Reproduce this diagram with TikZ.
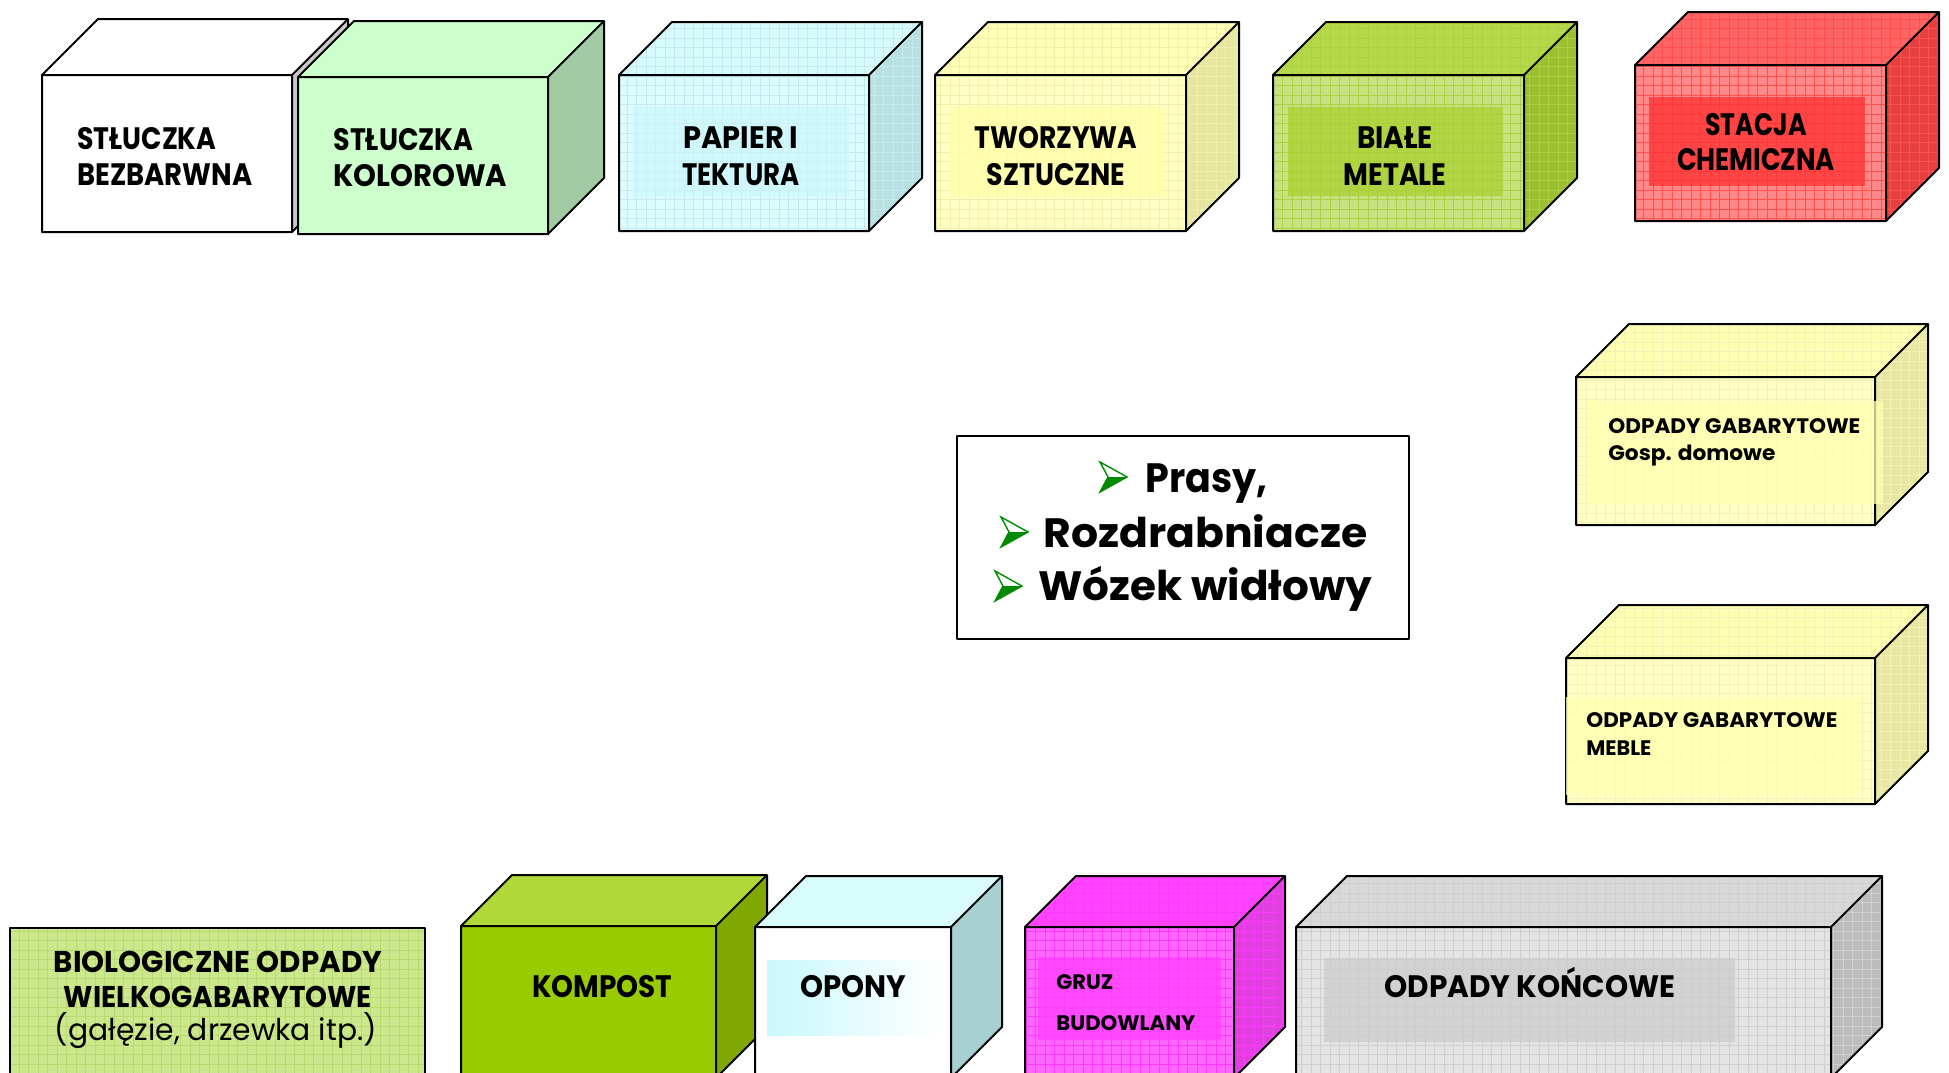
\documentclass[tikz,border=0pt]{standalone}
\usepackage{fontspec}
\setmainfont{Poppins}
\usepackage{graphicx}
\newcommand\fw[2]{\resizebox{#1}{\height}{#2}}
\definecolor{s1}{HTML}{C8C8C8}
\definecolor{f2}{HTML}{CCFFCC}\definecolor{s2}{HTML}{A3CBA3}
\definecolor{f3}{HTML}{DCFCFE}\definecolor{t3}{HTML}{D8FCFC}\definecolor{s3}{HTML}{B8E0E0}\definecolor{g3}{HTML}{C4EAF0}\definecolor{i3}{HTML}{CCF6FC}
\definecolor{f4}{HTML}{FFFFC4}\definecolor{t4}{HTML}{FFFFB8}\definecolor{s4}{HTML}{E6E6A0}\definecolor{g4}{HTML}{F0F0AC}\definecolor{i4}{HTML}{FFFFA8}
\definecolor{f5}{HTML}{C8E282}\definecolor{t5}{HTML}{B4D848}\definecolor{s5}{HTML}{9CC030}\definecolor{g5}{HTML}{ACD044}\definecolor{i5}{HTML}{A8D030}
\definecolor{f6}{HTML}{FF8888}\definecolor{t6}{HTML}{FF6464}\definecolor{s6}{HTML}{E64040}\definecolor{g6}{HTML}{FF5050}\definecolor{i6}{HTML}{FF3030}
\definecolor{f7}{HTML}{FFFFC4}\definecolor{t7}{HTML}{FFFFB4}\definecolor{s7}{HTML}{E8E8A4}\definecolor{g7}{HTML}{F2F2B4}\definecolor{i7}{HTML}{FFFFB0}
\definecolor{fb}{HTML}{CCE88C}\definecolor{gb}{HTML}{B8DA70}
\definecolor{fk}{HTML}{99CC00}\definecolor{tk}{HTML}{B0D838}\definecolor{sk}{HTML}{80A800}
\definecolor{to}{HTML}{D8FCFC}\definecolor{so}{HTML}{A8D0D0}\definecolor{io}{HTML}{C8F8FC}
\definecolor{fg}{HTML}{FF66FF}\definecolor{tg}{HTML}{FF44FF}\definecolor{sg}{HTML}{E040E0}\definecolor{gg}{HTML}{FF38FF}\definecolor{ig}{HTML}{FF40FF}
\definecolor{fe}{HTML}{E4E4E4}\definecolor{te}{HTML}{D8D8D8}\definecolor{se}{HTML}{BCBCBC}\definecolor{ge}{HTML}{CFCFCF}\definecolor{ie}{HTML}{CDCDCD}
\definecolor{arrgreen}{HTML}{008A00}
\tikzset{
  edge/.style={draw=black, line width=1pt, line join=round},
  nogrid/.style={draw=none},
  gridc/.style={draw=#1, line width=0.35pt, step=4.75pt},
  lblL/.style={inner sep=0pt, font=\bfseries\fontsize{15.5}{18}\selectfont},
  lblS/.style={inner sep=0pt, font=\bfseries\fontsize{10.5}{12}\selectfont},
  lblC/.style={inner sep=0pt, font=\bfseries\fontsize{20.5}{24}\selectfont},
  lblB/.style={inner sep=0pt, font=\bfseries\fontsize{15}{17}\selectfont},
  lblR/.style={inner sep=0pt, font=\fontsize{15}{17}\selectfont},
  innerbox/.style={fill=#1, fill opacity=0.75},
}
% #1 x1 #2 y1 #3 x2 #4 y2 #5 depth #6 front #7 top #8 side #9 grid style
\newcommand\cube[9]{%
  \path[fill=#7] (#1,#2) -- (#1+#5,#2-#5) -- (#3+#5,#2-#5) -- (#3,#2) -- cycle;
  \path[fill=#8] (#3,#2) -- (#3+#5,#2-#5) -- (#3+#5,#4-#5) -- (#3,#4) -- cycle;
  \path[fill=#6] (#1,#2) rectangle (#3,#4);
  \begin{scope}
    \clip (#1,#2) -- (#1+#5,#2-#5) -- (#3+#5,#2-#5) -- (#3+#5,#4-#5) -- (#3,#4) -- (#1,#4) -- cycle;
    \draw[#9] (#1,#2-#5) grid (#3+#5,#4);
  \end{scope}
  \draw[edge] (#1,#2) -- (#1+#5,#2-#5) -- (#3+#5,#2-#5) -- (#3+#5,#4-#5) -- (#3,#4) -- (#1,#4) -- cycle;
  \draw[edge] (#1,#2) -- (#3,#2) -- (#3+#5,#2-#5) (#3,#2) -- (#3,#4);
}
\newcommand\barrow[2]{%
  \begin{scope}[shift={(#1,#2)}]
    \filldraw[draw=arrgreen, fill=white, line width=0.7pt, line join=miter] (-27,-15) -- (0,0) -- (-27,15) -- (-19,0) -- cycle;
    \fill[arrgreen] (-19,0) -- (0,0) -- (-27,15) -- cycle;
  \end{scope}
}
\begin{document}
\begin{tikzpicture}[x=0.5pt,y=-0.5pt]
\useasboundingbox (0,0) rectangle (1949,1072);
\fill[white] (0,0) rectangle (1949,1072);
\clip (0,0) rectangle (1949,1072);

% ---------- top row ----------
\cube{42}{75}{292}{232}{56}{white}{white}{s1}{nogrid}
\cube{298}{77}{548}{234}{56}{f2}{f2}{s2}{nogrid}
\cube{619}{75}{869}{231}{53}{f3}{t3}{s3}{gridc=g3}
\fill[innerbox=i3] (633,107) rectangle (849,196);
\cube{935}{75}{1186}{231}{53}{f4}{t4}{s4}{gridc=g4}
\fill[innerbox=i4] (950,107) rectangle (1165,196);
\cube{1273}{75}{1524}{231}{53}{f5}{t5}{s5}{gridc=g5}
\fill[innerbox=i5] (1288,107) rectangle (1503,196);
\cube{1635}{65}{1886}{221}{53}{f6}{t6}{s6}{gridc=g6}
\fill[innerbox=i6] (1649,97) rectangle (1865,186);

\node[lblL, anchor=base west] (t1a) at (77,149) {\fw{69.5pt}{STŁUCZKA}};
\node[lblL, anchor=base west] (t1b) at (77,185) {\fw{87.5pt}{BEZBARWNA}};
\node[lblL, anchor=base west] (t2a) at (333,150) {\fw{70pt}{STŁUCZKA}};
\node[lblL, anchor=base west] (t2b) at (333,186) {\fw{87pt}{KOLOROWA}};
\node[lblL, anchor=base] (t3a) at (741,148) {\fw{57.5pt}{PAPIER I}};
\node[lblL, anchor=base] (t3b) at (741,185) {\fw{58.5pt}{TEKTURA}};
\node[lblL, anchor=base] (t4a) at (1056,148) {\fw{81.5pt}{TWORZYWA}};
\node[lblL, anchor=base] (t4b) at (1056,185) {\fw{69.5pt}{SZTUCZNE}};
\node[lblL, anchor=base] (t5a) at (1395,148) {\fw{38pt}{BIAŁE}};
\node[lblL, anchor=base] (t5b) at (1395,185) {\fw{51.5pt}{METALE}};
\node[lblL, anchor=base] (t6a) at (1756,135) {\fw{50.5pt}{STACJA}};
\node[lblL, anchor=base] (t6b) at (1756,170) {\fw{79pt}{CHEMICZNA}};

% ---------- right column ----------
\cube{1576}{377}{1875}{525}{53}{f7}{t7}{s7}{gridc=g7}
\fill[innerbox=i7] (1588,401) rectangle (1883,504);
\node[lblS, anchor=base west] (t7a) at (1608,433) {\fw{126pt}{ODPADY GABARYTOWE}};
\node[lblS, anchor=base west] (t7b) at (1608,460) {\fw{83.5pt}{Gosp. domowe}};

\cube{1566}{658}{1875}{804}{53}{f7}{t7}{s7}{gridc=g7}
\fill[innerbox=i7] (1566,697) rectangle (1860,795);
\node[lblS, anchor=base west] (t8a) at (1586,727) {\fw{125.5pt}{ODPADY GABARYTOWE}};
\node[lblS, anchor=base west] (t8b) at (1586,755) {\fw{32.5pt}{MEBLE}};

% ---------- centre box ----------
\draw[edge, fill=white] (957,436) rectangle (1409,639);
\node[lblC, anchor=base west] (c1) at (1145,492) {\fw{61pt}{Prasy,}};
\node[lblC, anchor=base west] (c2) at (1043,547) {\fw{162pt}{Rozdrabniacze}};
\node[lblC, anchor=base west] (c3) at (1038,600) {\fw{167pt}{Wózek widłowy}};
\barrow{1127}{477}
\barrow{1028}{532}
\barrow{1022}{586}

% ---------- bottom row ----------
\path[fill=fb] (10,928) rectangle (425,1080);
\begin{scope}
  \clip (10,928) rectangle (425,1080);
  \draw[gridc=gb] (10,928) grid (425,1080);
\end{scope}
\draw[edge] (10,1080) -- (10,928) -- (425,928) -- (425,1080);
\node[lblB, anchor=base] (b1) at (218,972) {\fw{164pt}{BIOLOGICZNE ODPADY}};
\node[lblB, anchor=base] (b2) at (218,1007) {\fw{154pt}{WIELKOGABARYTOWE}};
\node[lblR, anchor=base] (b3) at (216,1040) {\fw{161pt}{(gałęzie, drzewka itp.)}};

\cube{461}{926}{716}{1078}{51}{fk}{tk}{sk}{nogrid}
\node[lblL, anchor=base] (k1) at (602,997) {\fw{70pt}{KOMPOST}};

\cube{755}{927}{951}{1078}{51}{white}{to}{so}{nogrid}
\shade[left color=io, right color=white] (767,960) rectangle (940,1035);
\draw[edge] (951,927) -- (951,1078);
\node[lblL, anchor=base] (o1) at (853,997) {\fw{53pt}{OPONY}};

\cube{1025}{927}{1234}{1078}{51}{fg}{tg}{sg}{gridc=gg}
\fill[innerbox=ig] (1038,957) rectangle (1221,1040);
\node[lblS, anchor=base west] (g1) at (1056,989) {\fw{28.5pt}{GRUZ}};
\node[lblS, anchor=base west] (g2) at (1056,1030) {\fw{69.5pt}{BUDOWLANY}};

\cube{1296}{927}{1831}{1078}{51}{fe}{te}{se}{gridc=ge}
\fill[innerbox=ie] (1324,958) rectangle (1735,1042);
\node[lblL, anchor=base] (e1) at (1530,997) {\fw{145.5pt}{ODPADY KOŃCOWE}};
\end{tikzpicture}
\end{document}
